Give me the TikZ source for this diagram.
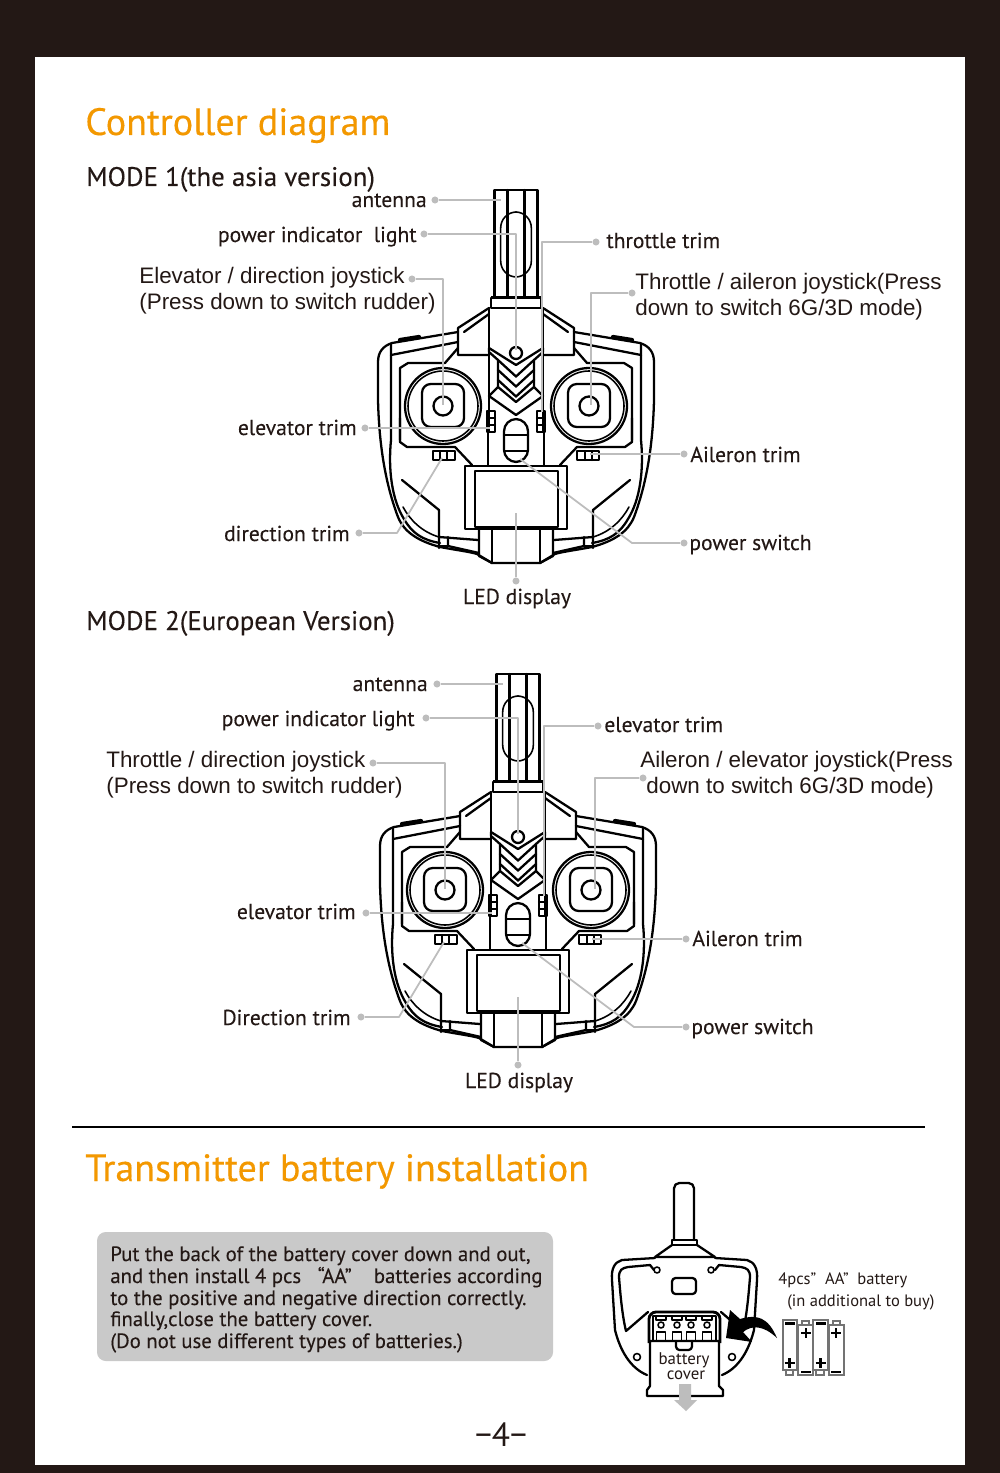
\documentclass[tikz,border=0pt]{standalone}
\usepackage{fontspec}
\setmainfont{PT Sans}
\newfontfamily\arl{Liberation Sans}
\definecolor{frame}{HTML}{231815}
\definecolor{orng}{HTML}{F39800}
\definecolor{lead}{HTML}{BDBDBD}
\definecolor{boxg}{HTML}{C9C9C9}
\definecolor{txt}{HTML}{231815}
\tikzset{
 ln/.style={draw=black,line width=1.3pt,line join=round,line cap=round},
 thin ln/.style={draw=black,line width=0.9pt,line join=round,line cap=round},
 leader/.style={draw=lead,line width=1pt,line join=round},
 dotn/.style={circle,fill=lead,inner sep=0pt,minimum size=4pt},
 title/.style={inner sep=0pt,text=orng,font=\fontsize{21.65}{24}\selectfont\addfontfeature{FakeBold=0.3}},
 mode/.style={inner sep=0pt,text=txt,font=\fontsize{15.3}{16}\selectfont\addfontfeature{FakeBold=0.15}},
 lab/.style={inner sep=0pt,text=txt,font=\fontsize{12.3}{14}\selectfont\addfontfeature{FakeBold=0.15}},
 alab/.style={inner sep=0pt,text=txt,font=\arl\fontsize{12.75}{15}\selectfont},
 note/.style={inner sep=0pt,text=txt,font=\fontsize{11.8}{13}\selectfont\addfontfeature{FakeBold=0.15}},
 small/.style={inner sep=0pt,text=txt,font=\fontsize{9.4}{11}\selectfont},
}
\newcommand\ctlhalf{%
 % centre column and shoulder
 \draw[ln] (-27,308) -- (-27,432);
 \draw[ln] (-27,308) -- (-58,328) -- (-58,355) -- (-27,355);
 \draw[ln] (-27,314) -- (-52,332);
 % outer shell
 \draw[ln] (-58,332) -- (-124,343) .. controls (-133,346) and (-138,352) .. (-138,362)
   -- (-138,400) .. controls (-137,440) and (-132,480) .. (-118,517)
   .. controls (-112,532) and (-98,541) .. (-76,547)
   .. controls (-60,550) and (-45,552) .. (-39,554) -- (-24,563) -- (0,563);
 \draw[line width=2.4pt,black,line cap=round] (-116,340) -- (-97,337);
 % inner shell
 \draw[ln] (-125,344) -- (-125,440) .. controls (-128,470) and (-124,500) .. (-112,519)
   .. controls (-104,533) and (-94,540) .. (-76,543);
 \draw[thin ln] (-113,507) .. controls (-106,520) and (-94,532) .. (-77,537);
 \draw[ln] (-125,355) -- (-58,342);
 \draw[ln] (-116,440) -- (-116,368) -- (-108,363) -- (-71,363) -- (-58,348);
 \draw[ln] (-116,418) -- (-116,442) -- (-109,447) -- (-61,447) -- (-44,465);
 \draw[ln] (-28,432) -- (-28,465);
 % lower grip
 \draw[ln] (-114,480) -- (-77,510) -- (-77,548);
 \draw[ln] (-77,537) -- (-38,540);
 \draw[ln] (-68,537) -- (-68,546) -- (-37,553);
 \draw[ln] (-77,546) -- (-68,546);
 \draw[ln] (-37,529) -- (-37,556) -- (-24,563);
 \draw[ln] (-24,529) -- (-24,563);
 % stick
 \draw[ln] (-73,406) circle (38);
 \draw[thin ln] (-73,406) circle (35);
 \draw[ln,rounded corners=5] (-94,384) rectangle (-52,427);
 \draw[ln] (-73,406) circle (9.5);
 % vertical trim
 \draw[ln] (-29,411) rectangle (-21,432);
 \draw[ln] (-29,418) -- (-21,418) (-29,425) -- (-21,425);
 % horizontal trim
 \draw[ln] (-83,451) rectangle (-61,460);
 \draw[ln] (-76,451) -- (-76,460) (-69,451) -- (-69,460);
 % chevrons
 \draw[ln] (-27,348) -- (0,365);
 \draw[ln] (-27,348) -- (-27,352) -- (-18,360) -- (0,376.5);
 \draw[ln] (-18,360) -- (-18,370) -- (0,386.5);
 \draw[ln] (-18,370) -- (-18,380) -- (0,396.5);
 \draw[ln] (-18,380) -- (-18,387) -- (-27,396) -- (0,415);
 \draw[ln] (-18,387) -- (0,402);
}
\newcommand\ctlall{%
 \draw[ln] (-21.5,297) -- (-21.5,190) -- (21.5,190) -- (21.5,297);
 \draw[ln] (-8.5,190) -- (-8.5,297) (8.5,190) -- (8.5,297);
 \draw[thin ln,rounded corners=9] (-15.3,212) rectangle (15.3,277);
 \draw[ln] (-25,298) rectangle (25,308);
 \draw[line width=2.2pt,black] (-25,297.5) -- (25,297.5);
 \ctlhalf
 \begin{scope}[xscale=-1]\ctlhalf\end{scope}
 \draw[ln] (0,353) circle (6);
 % power switch
 \draw[ln,rounded corners=7] (-12,419) rectangle (12,462);
 \draw[ln] (-12,435) -- (12,435) (-12,451) -- (12,451);
 % display
 \draw[ln] (-51,466) rectangle (51,529);
 \draw[ln] (-41,471) rectangle (42,527);
}
\begin{document}
\begin{tikzpicture}[x=0.02cm,y=-0.02cm]
\useasboundingbox (0,0) rectangle (1000,1473);
\fill[frame] (0,0) rectangle (1000,1473);
\fill[white] (35,57) rectangle (965,1465);
% controllers
\begin{scope}[shift={(516,0)}]\ctlall\end{scope}
\begin{scope}[shift={(518,484)}]\ctlall\end{scope}
% titles
\node[title,anchor=base west] (t1) at (85,135) {Controller diagram};
\node[mode,anchor=base west] (m1) at (86,186) {MODE 1(the asia version)};
\node[mode,anchor=base west] (m2) at (86,630) {MODE 2(European Version)};
\node[title,anchor=base west] (t2) at (85,1181) {Transmitter battery installation};
% mode 1 labels
\node[lab,anchor=base east] (a1) at (427,207) {antenna};
\node[lab,anchor=base east] (a2) at (417,242) {power indicator\ \ light};
\node[alab,anchor=base west] (a3) at (139,283) {Elevator / direction joystick};
\node[alab,anchor=base west] (a4) at (139,309) {(Press down to switch rudder)};
\node[lab,anchor=base east] (a5) at (357,435) {elevator trim};
\node[lab,anchor=base east] (a6) at (350,541) {direction trim};
\node[lab,anchor=base west] (a7) at (606,248) {throttle trim};
\node[alab,anchor=base west] (a8) at (635,289) {Throttle / aileron joystick(Press};
\node[alab,anchor=base west] (a9) at (635,315) {down to switch 6G/3D mode)};
\node[lab,anchor=base west] (a10) at (690,462) {Aileron trim};
\node[lab,anchor=base west] (a11) at (689,550) {power switch};
\node[lab,anchor=base] (a12) at (517,604) {LED display};
% mode 2 labels
\node[lab,anchor=base east] (b1) at (428,691) {antenna};
\node[lab,anchor=base east] (b2) at (415,726) {power indicator light};
\node[alab,anchor=base west] (b3) at (106,767) {Throttle / direction joystick};
\node[alab,anchor=base west] (b4) at (106,793) {(Press down to switch rudder)};
\node[lab,anchor=base east] (b5) at (356,919) {elevator trim};
\node[lab,anchor=base east] (b6) at (351,1025) {Direction trim};
\node[lab,anchor=base west] (b7) at (604,732) {elevator trim};
\node[alab,anchor=base west] (b8) at (640,767) {Aileron / elevator joystick(Press};
\node[alab,anchor=base west] (b9) at (646,793) {down to switch 6G/3D mode)};
\node[lab,anchor=base west] (b10) at (692,946) {Aileron trim};
\node[lab,anchor=base west] (b11) at (691,1034) {power switch};
\node[lab,anchor=base] (b12) at (519,1088) {LED display};
% leaders, mode 1
\node[dotn] (p1) at (435,200) {}; \coordinate (q1) at (501,200);
\draw[leader] (p1) -- (q1);
\node[dotn] (p2) at (424,234) {}; \coordinate (q2a) at (516,234); \coordinate (q2) at (516,350);
\draw[leader] (p2) -- (q2a) -- (q2);
\node[dotn] (p3) at (412,279) {}; \coordinate (q3a) at (443,279); \coordinate (q3) at (443,405);
\draw[leader] (p3) -- (q3a) -- (q3);
\node[dotn] (p4) at (365,428) {}; \coordinate (q4) at (490,428);
\draw[leader] (p4) -- (q4);
\node[dotn] (p5) at (359,533) {}; \coordinate (q5a) at (397,533); \coordinate (q5) at (442,458);
\draw[leader] (p5) -- (q5a) -- (q5);
\node[dotn] (p6) at (596,242) {}; \coordinate (q6a) at (542,242); \coordinate (q6) at (542,412);
\draw[leader] (p6) -- (q6a) -- (q6);
\node[dotn] (p7) at (632,293) {}; \coordinate (q7a) at (591,293); \coordinate (q7) at (591,405);
\draw[leader] (p7) -- (q7a) -- (q7);
\node[dotn] (p8) at (684,454) {}; \coordinate (q8) at (590,454);
\draw[leader] (p8) -- (q8);
\node[dotn] (p9) at (684,543) {}; \coordinate (q9a) at (632,543); \coordinate (q9) at (520,459);
\draw[leader] (p9) -- (q9a) -- (q9);
\node[dotn] (p10) at (516,581) {}; \coordinate (q10) at (516,513);
\draw[leader] (p10) -- (q10);
% leaders, mode 2
\node[dotn] (r1) at (437,684) {}; \coordinate (s1) at (503,684);
\draw[leader] (r1) -- (s1);
\node[dotn] (r2) at (426,718) {}; \coordinate (s2a) at (518,718); \coordinate (s2) at (518,834);
\draw[leader] (r2) -- (s2a) -- (s2);
\node[dotn] (r3) at (373,763) {}; \coordinate (s3a) at (445,763); \coordinate (s3) at (445,889);
\draw[leader] (r3) -- (s3a) -- (s3);
\node[dotn] (r4) at (366,913) {}; \coordinate (s4) at (492,913);
\draw[leader] (r4) -- (s4);
\node[dotn] (r5) at (361,1017) {}; \coordinate (s5a) at (399,1017); \coordinate (s5) at (444,942);
\draw[leader] (r5) -- (s5a) -- (s5);
\node[dotn] (r6) at (598,726) {}; \coordinate (s6a) at (544,726); \coordinate (s6) at (544,896);
\draw[leader] (r6) -- (s6a) -- (s6);
\node[dotn] (r7) at (643,778) {}; \coordinate (s7a) at (595,778); \coordinate (s7) at (595,889);
\draw[leader] (r7) -- (s7a) -- (s7);
\node[dotn] (r8) at (686,939) {}; \coordinate (s8) at (592,939);
\draw[leader] (r8) -- (s8);
\node[dotn] (r9) at (686,1027) {}; \coordinate (s9a) at (634,1027); \coordinate (s9) at (522,943);
\draw[leader] (r9) -- (s9a) -- (s9);
\node[dotn] (r10) at (518,1065) {}; \coordinate (s10) at (518,997);
\draw[leader] (r10) -- (s10);
% rule
\draw[black,line width=1.2pt] (72,1127) -- (925,1127);
% note box
\fill[boxg,rounded corners=5] (97,1232) rectangle (553,1361);
\node[note,anchor=base west] (n1) at (110,1261) {Put the back of the battery cover down and out,};
\node[note,anchor=base west] (n2) at (110,1283) {and then install 4 pcs\ \ \ “AA”\ \ \ \ batteries according};
\node[note,anchor=base west] (n3) at (110,1305) {to the positive and negative direction correctly.};
\node[note,anchor=base west] (n4) at (110,1326) {finally,close the battery cover.};
\node[note,anchor=base west] (n5) at (110,1348) {(Do not use different types of batteries.)};
% back of the transmitter
\draw[ln,rounded corners=3] (674,1240) -- (674,1183) -- (694,1183) -- (694,1240);
\draw[ln] (672,1240) rectangle (697,1245);
\draw[ln] (655,1257) -- (672,1245) (697,1245) -- (715,1257) (655,1257) -- (715,1257);
\draw[ln] (647,1375) .. controls (630,1368) and (620,1350) .. (615,1330) -- (612,1280)
  .. controls (611,1268) and (615,1262) .. (622,1260) -- (655,1258);
\draw[ln] (722,1375) .. controls (739,1368) and (749,1350) .. (754,1330) -- (757,1280)
  .. controls (758,1268) and (754,1262) .. (747,1260) -- (715,1258);
\draw[ln] (648,1312) -- (626,1331) .. controls (622,1315) and (620,1290) .. (619,1277)
  .. controls (619,1270) and (622,1268) .. (628,1267) -- (650,1265) -- (654,1270);
\draw[ln] (721,1312) -- (743,1331) .. controls (747,1315) and (749,1290) .. (750,1277)
  .. controls (750,1270) and (747,1268) .. (741,1267) -- (719,1265) -- (715,1270);
\draw[thin ln] (657,1270) circle (3) (711,1270) circle (3) (637,1357) circle (3.5) (732,1357) circle (3.5);
\draw[ln,rounded corners=2] (672,1278) rectangle (696,1294);
\draw[line width=1.6pt,black,rounded corners=4] (649,1343) -- (649,1312) -- (720,1312) -- (720,1343);
\draw[thin ln] (653,1343) -- (653,1316) -- (716,1316) -- (716,1343);
\foreach \bx in {661,677,691,707}{
  \draw[thin ln] (\bx,1325) circle (3);
  \draw[thin ln] (\bx-4.5,1341) -- (\bx-4.5,1332) -- (\bx+4.5,1332) -- (\bx+4.5,1341);
  \draw[thin ln] (\bx-5,1316) -- (\bx-5,1320) -- (\bx+5,1320) -- (\bx+5,1316);
}
\draw[ln,fill=white] (650,1341) -- (650,1386) -- (647,1390) -- (647,1396) -- (723,1396) -- (723,1390) -- (719,1386) -- (719,1341) -- cycle;
\draw[ln,rounded corners=2] (676,1341) -- (676,1350) -- (692,1350) -- (692,1341);
\node[small,font=\fontsize{9.6}{11}\selectfont,anchor=base] (c1) at (684,1364) {battery};
\node[small,font=\fontsize{9.6}{11}\selectfont,anchor=base] (c2) at (686,1379) {cover};
% gray pull arrow
\fill[lead] (679,1384) -- (691,1384) -- (691,1400) -- (697,1400) -- (686,1411) -- (674,1400) -- (679,1400) -- cycle;
% black curved arrow
\fill[black] (777,1338) .. controls (768,1317) and (757,1314) .. (740,1319) -- (730,1310) -- (726,1338) -- (752,1342) -- (743,1332)
  .. controls (752,1325) and (763,1325) .. (777,1338) -- cycle;
% batteries
\tikzset{bat/.style={draw=black!55,line width=0.7pt},pm/.style={black,line width=1.3pt}}
\draw[bat] (783,1320) rectangle (797,1370) (786,1370) rectangle (793,1375);
\draw[bat] (798,1325) rectangle (813,1375) (802,1321) rectangle (809,1325);
\draw[bat] (813,1320) rectangle (828,1370) (816,1370) rectangle (824,1375);
\draw[bat] (829,1325) rectangle (844,1375) (833,1321) rectangle (840,1325);
\draw[pm] (785,1323.5) -- (795,1323.5) (784.5,1363) -- (794.5,1363) (789.5,1358) -- (789.5,1368);
\draw[pm] (801,1333) -- (811,1333) (806,1328) -- (806,1338) (801,1372) -- (811,1372);
\draw[pm] (816,1323.5) -- (826,1323.5) (815.5,1363) -- (825.5,1363) (820.5,1358) -- (820.5,1368);
\draw[pm] (831,1333) -- (841,1333) (836,1328) -- (836,1338) (831,1372) -- (841,1372);
\node[small,anchor=base west] (d1) at (778,1284) {4pcs”\ \ AA”\ \ battery};
\node[small,anchor=base west] (d2) at (787,1306) {(in additional to buy)};
\node[inner sep=0pt,text=txt,font=\fontsize{19}{22}\selectfont,anchor=base] (pg) at (501,1446) {−4−};
\end{tikzpicture}
\end{document}
